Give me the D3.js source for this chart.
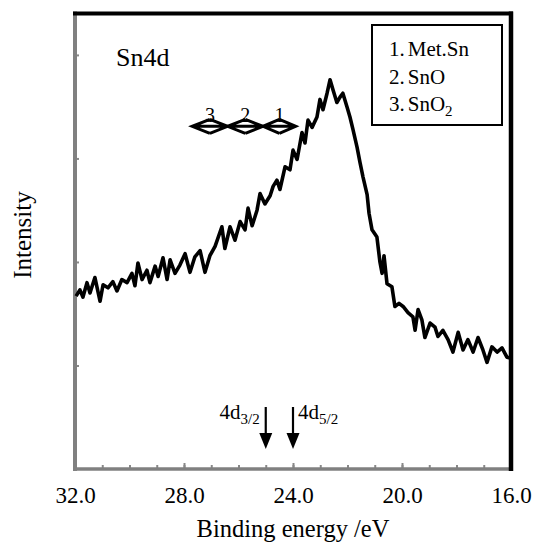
<!DOCTYPE html>
<html>
<head>
<meta charset="utf-8">
<script src="https://cdn.jsdelivr.net/npm/d3@7"></script>
<style>
  body { margin: 0; background: #fff; }
  text { font-family: "Liberation Serif", "Times New Roman", serif; fill: #000; }
</style>
</head>
<body>
<svg id="chart" width="539" height="550"></svg>
<script>
// binding energy (eV) and intensity (a.u.)
const energy = [31.96, 31.82, 31.71, 31.56, 31.45, 31.27, 31.08, 30.97, 30.79, 30.61,
  30.46, 30.28, 30.09, 29.91, 29.80, 29.69, 29.54, 29.36, 29.25, 29.06,
  28.95, 28.77, 28.62, 28.51, 28.33, 28.15, 27.96, 27.78, 27.60, 27.41,
  27.23, 27.05, 26.86, 26.61, 26.50, 26.31, 26.13, 25.94, 25.76, 25.65,
  25.50, 25.32, 25.21, 25.03, 24.84, 24.73, 24.59, 24.48, 24.29, 24.11,
  24.00, 23.85, 23.67, 23.56, 23.45, 23.30, 23.12, 23.01, 22.90, 22.75,
  22.64, 22.53, 22.39, 22.28, 22.17, 22.02, 21.91, 21.80, 21.65, 21.54,
  21.43, 21.28, 21.21, 21.10, 20.92, 20.81, 20.73, 20.66, 20.55, 20.37,
  20.26, 20.11, 19.96, 19.78, 19.60, 19.52, 19.41, 19.27, 19.16, 18.97,
  18.79, 18.68, 18.50, 18.31, 18.13, 17.94, 17.76, 17.58, 17.39, 17.21,
  17.03, 16.88, 16.70, 16.51, 16.33, 16.15, 16.00];
const intensity = [1.67, 1.73, 1.66, 1.80, 1.70, 1.85, 1.62, 1.78, 1.75, 1.81,
  1.72, 1.83, 1.80, 1.89, 1.77, 1.99, 1.83, 1.92, 1.80, 1.96,
  1.86, 2.04, 1.83, 2.02, 1.89, 1.97, 2.08, 1.90, 2.05, 2.11,
  1.90, 2.06, 2.15, 2.34, 2.13, 2.34, 2.21, 2.39, 2.31, 2.52,
  2.35, 2.50, 2.66, 2.56, 2.64, 2.73, 2.79, 2.70, 2.92, 2.89,
  3.08, 2.99, 3.25, 3.15, 3.37, 3.30, 3.40, 3.57, 3.47, 3.63,
  3.76, 3.66, 3.54, 3.59, 3.63, 3.50, 3.40, 3.28, 3.11, 2.96,
  2.82, 2.65, 2.47, 2.31, 2.24, 2.00, 1.89, 2.06, 1.79, 1.76,
  1.57, 1.60, 1.57, 1.51, 1.47, 1.34, 1.54, 1.44, 1.27, 1.41,
  1.37, 1.28, 1.34, 1.25, 1.13, 1.32, 1.15, 1.25, 1.13, 1.27,
  1.15, 1.03, 1.18, 1.13, 1.17, 1.08, 1.07];

const xMajor = [32, 28, 24, 20, 16];
const xMinor = d3.range(17, 32, 1);
const yTicks = [1, 2, 3, 4];

// chemical-state ranges (eV), drawn as double arrows
const stateLabels = ["3", "2", "1"];
const stateFrom = [27.7, 26.4, 25.1];
const stateTo = [26.4, 25.1, 23.9];
const stateLevel = 3.31;

// spin-orbit markers
const peakNames = ["4d", "4d"];
const peakSubs = ["3/2", "5/2"];
const peakEnergy = [25.0, 24.0];

const legendItems = [["1.", "Met.Sn", ""], ["2.", "SnO", ""], ["3.", "SnO", "2"]];

const svg = d3.select("#chart");
const pL = 75, pR = 511, pT = 13.5, pB = 469;

const x = d3.scaleLinear().domain([32, 16]).range([pL, pR]);
const y = d3.scaleLinear().domain([0, 4.4]).range([pB, pT]);

// axes (ticks point inward)
const gx = svg.append("g").attr("transform", `translate(0,${pB})`);
gx.call(d3.axisBottom(x).tickValues(xMinor).tickSize(-4).tickSizeOuter(0).tickFormat(""));
gx.select(".domain").remove();
const gxMaj = svg.append("g").attr("transform", `translate(0,${pB})`);
gxMaj.call(d3.axisBottom(x).tickValues(xMajor).tickSize(-6).tickSizeOuter(0)
  .tickPadding(18).tickFormat(d3.format(".1f")));
gxMaj.select(".domain").remove();
gxMaj.selectAll("text").attr("font-size", 23).attr("font-family", "Liberation Serif");
svg.selectAll(".tick line").attr("stroke", "#888").attr("stroke-width", 2);

const gy = svg.append("g").attr("transform", `translate(${pL},0)`);
gy.call(d3.axisLeft(y).tickValues(yTicks).tickSize(-4).tickSizeOuter(0).tickFormat(""));
gy.select(".domain").remove();
gy.selectAll(".tick line").attr("stroke", "#888").attr("stroke-width", 2);

// frame: left/bottom grey, top/right black
svg.append("line").attr("x1", pL).attr("x2", pL).attr("y1", pT - 2).attr("y2", pB + 2)
  .attr("stroke", "#808080").attr("stroke-width", 4);
svg.append("line").attr("x1", pL - 2).attr("x2", pR).attr("y1", pB).attr("y2", pB)
  .attr("stroke", "#808080").attr("stroke-width", 3.5);
svg.append("line").attr("x1", pL - 2).attr("x2", pR + 2).attr("y1", pT).attr("y2", pT)
  .attr("stroke", "#000").attr("stroke-width", 4);
svg.append("line").attr("x1", pR).attr("x2", pR).attr("y1", pT - 2).attr("y2", pB + 2)
  .attr("stroke", "#000").attr("stroke-width", 4.5);

// spectrum
const line = d3.line().x((d, i) => x(energy[i])).y(d => y(d));
svg.append("path")
  .datum(intensity)
  .attr("d", line)
  .attr("fill", "none")
  .attr("stroke", "#000")
  .attr("stroke-width", 3.6)
  .attr("stroke-linejoin", "round");

// axis titles
svg.append("text").attr("x", (pL + pR) / 2).attr("y", 537)
  .attr("text-anchor", "middle").attr("font-size", 24.5).text("Binding energy /eV");
svg.append("text").attr("transform", "translate(31,235) rotate(-90)")
  .attr("text-anchor", "middle").attr("font-size", 25).text("Intensity");

svg.append("text").attr("x", 116).attr("y", 66).attr("font-size", 26).text("Sn4d");

// double arrows for the chemical states
stateLabels.forEach((lab, i) => {
  const x0 = x(stateFrom[i]), x1 = x(stateTo[i]), yy = y(stateLevel);
  const h = (x1 - x0) / 2, w = 7;
  svg.append("path")
    .attr("d", `M${x0},${yy}L${x1},${yy}M${x0 + h},${yy - w}L${x0},${yy}L${x0 + h},${yy + w}` +
      `M${x1 - h},${yy - w}L${x1},${yy}L${x1 - h},${yy + w}`)
    .attr("fill", "none").attr("stroke", "#000").attr("stroke-width", 3);
  svg.append("text").attr("x", (x0 + x1) / 2).attr("y", yy - 4)
    .attr("text-anchor", "middle").attr("font-size", 20).text(lab);
});

// 4d3/2 and 4d5/2 arrows
peakEnergy.forEach((e, i) => {
  const xx = x(e), y0 = 407, y1 = 449;
  svg.append("line").attr("x1", xx).attr("x2", xx).attr("y1", y0).attr("y2", y1 - 10)
    .attr("stroke", "#000").attr("stroke-width", 2.2);
  svg.append("path").attr("d", `M${xx - 6.5},${y1 - 16}L${xx + 6.5},${y1 - 16}L${xx},${y1}Z`)
    .attr("fill", "#000");
  const t = svg.append("text").attr("y", 419).attr("font-size", 21)
    .attr("x", i === 0 ? xx - 6 : xx + 5)
    .attr("text-anchor", i === 0 ? "end" : "start");
  t.append("tspan").text(peakNames[i]);
  t.append("tspan").attr("dy", 5).attr("font-size", 15).text(peakSubs[i]);
});

// legend box
svg.append("rect").attr("x", 372).attr("y", 25).attr("width", 130).attr("height", 100)
  .attr("fill", "#fff").attr("stroke", "#000").attr("stroke-width", 2);
legendItems.forEach((it, i) => {
  const t = svg.append("text").attr("x", 389).attr("y", 56 + i * 27.5).attr("font-size", 21);
  t.append("tspan").text(it[0]);
  t.append("tspan").attr("dx", 3).text(it[1]);
  if (it[2]) t.append("tspan").attr("dy", 5).attr("font-size", 15).text(it[2]);
});
</script>
</body>
</html>
